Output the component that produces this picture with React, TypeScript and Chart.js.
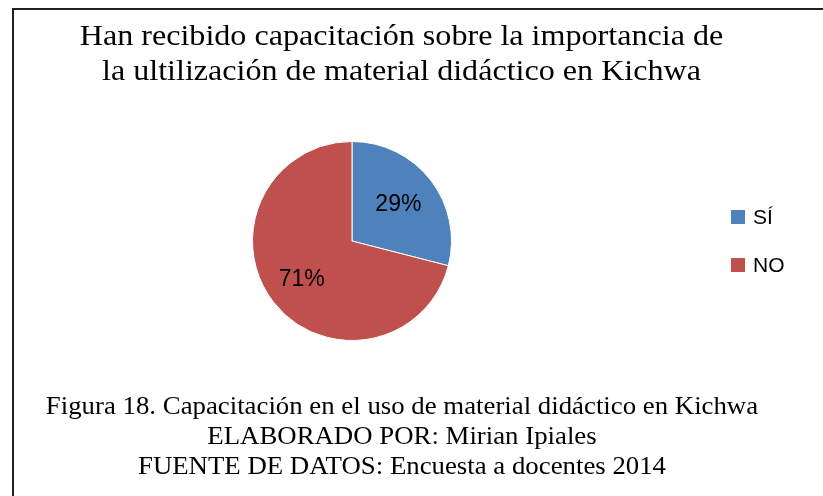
import React, { useEffect, useRef } from "react";
import { Chart, registerables } from "chart.js";

Chart.register(...registerables);

const categories = ["SÍ", "NO"];
const values = [29, 71];
const colors = ["#4F81BD", "#C0504D"];
const titleLines = [
  "Han recibido capacitación sobre la importancia de",
  "la ultilización de material didáctico en Kichwa",
];
const captionLines = [
  "Figura 18. Capacitación en el uso de material didáctico en Kichwa",
  "ELABORADO POR: Mirian Ipiales",
  "FUENTE DE DATOS: Encuesta a docentes 2014",
];
const labelRadiusFactor = [0.59, 0.64];

const sans = "'Liberation Sans', Arial, sans-serif";
const serif = "'Liberation Serif', 'Times New Roman', serif";

const overlayPlugin = {
  id: "overlay",
  afterDraw(chart: any) {
    const ctx = chart.ctx;
    const meta = chart.getDatasetMeta(0);
    const data = chart.data.datasets[0].data as number[];
    const total = data.reduce((a, b) => a + b, 0);
    ctx.save();
    ctx.fillStyle = "#000";
    ctx.font = `23px ${sans}`;
    ctx.textAlign = "center";
    ctx.textBaseline = "middle";
    meta.data.forEach((arc: any, i: number) => {
      const mid = (arc.startAngle + arc.endAngle) / 2;
      const r = arc.outerRadius * labelRadiusFactor[i];
      const x = arc.x + Math.cos(mid) * r;
      const y = arc.y + Math.sin(mid) * r;
      ctx.fillText(Math.round((data[i] / total) * 100) + "%", x, y);
    });
    // legend
    const lx = 731;
    const ys = [217, 265];
    ctx.font = `21px ${sans}`;
    ctx.textAlign = "left";
    chart.data.labels.forEach((lab: string, i: number) => {
      ctx.fillStyle = colors[i];
      ctx.fillRect(lx, ys[i] - 7, 14, 14);
      ctx.fillStyle = "#000";
      ctx.fillText(lab, lx + 22, ys[i] + 1);
    });
    ctx.restore();
  },
};

export default function App() {
  const ref = useRef<HTMLCanvasElement>(null);
  useEffect(() => {
    if (!ref.current) return;
    const chart = new Chart(ref.current, {
      type: "pie",
      data: {
        labels: categories,
        datasets: [
          {
            data: values,
            backgroundColor: colors,
            borderColor: "#FFFFFF",
            borderWidth: 1,
          },
        ],
      },
      options: {
        responsive: false,
        animation: false,
        layout: { padding: { left: 252, right: 371, top: 141, bottom: 155 } },
        plugins: {
          legend: { display: false },
          tooltip: { enabled: false },
          title: { display: false },
        },
      },
      plugins: [overlayPlugin],
    });
    return () => chart.destroy();
  }, []);

  return (
    <div
      style={{
        position: "fixed",
        left: 0,
        top: 0,
        width: 823,
        height: 496,
        background: "#fff",
        overflow: "hidden",
      }}
    >
      <div
        style={{
          position: "absolute",
          left: 12,
          top: 8,
          right: 0,
          bottom: 0,
          borderTop: "2px solid #222",
          borderLeft: "2px solid #222",
        }}
      />
      <canvas
        ref={ref}
        width={823}
        height={496}
        style={{ position: "absolute", left: 0, top: 0 }}
      />
      <div
        style={{
          position: "absolute",
          left: 0,
          width: 803,
          top: 18,
          textAlign: "center",
          fontFamily: serif,
          fontSize: 29,
          lineHeight: "35px",
          color: "#000",
          transform: "scaleX(1.107)",
          transformOrigin: "center",
          whiteSpace: "nowrap",
        }}
      >
        {titleLines.map((t, i) => (
          <div key={i}>{t}</div>
        ))}
      </div>
      <div
        style={{
          position: "absolute",
          left: 0,
          width: 804,
          top: 391,
          textAlign: "center",
          fontFamily: serif,
          fontSize: 24.5,
          lineHeight: "30px",
          color: "#000",
          transform: "scaleX(1.094)",
          transformOrigin: "center",
          whiteSpace: "nowrap",
        }}
      >
        {captionLines.map((t, i) => (
          <div key={i}>{t}</div>
        ))}
      </div>
    </div>
  );
}
